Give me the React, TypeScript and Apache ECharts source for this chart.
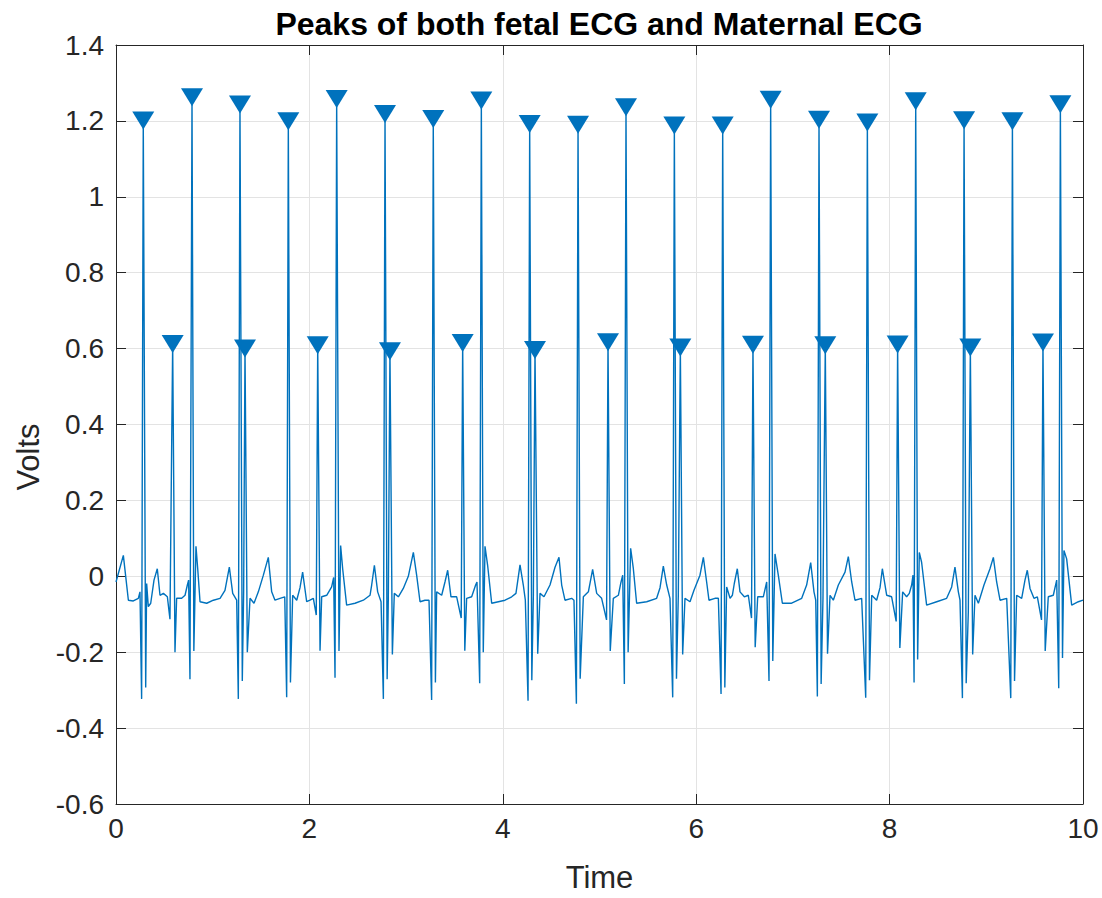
import React, { useEffect, useRef } from "react";
import * as echarts from "echarts";

// Peak markers (time in s, amplitude in V)
const maternalPeakTimes = [0.282, 0.786, 1.282, 1.782, 2.282, 2.782, 3.281, 3.778, 4.278, 4.778, 5.274, 5.774, 6.274, 6.770, 7.270, 7.770, 8.270, 8.770, 9.270, 9.766];
const maternalPeakValues = [1.201, 1.262, 1.243, 1.199, 1.258, 1.218, 1.205, 1.254, 1.192, 1.190, 1.236, 1.188, 1.188, 1.256, 1.203, 1.196, 1.252, 1.202, 1.199, 1.244];
const fetalPeakTimes = [0.586, 1.334, 2.086, 2.833, 3.585, 4.333, 5.088, 5.836, 6.587, 7.335, 8.083, 8.835, 9.586];
const fetalPeakValues = [0.612, 0.600, 0.609, 0.593, 0.615, 0.596, 0.617, 0.603, 0.610, 0.609, 0.611, 0.603, 0.616];

// Traced ECG vertices (besides the R peaks above)
const traceTimes = [
  0.000, 0.076, 0.128, 0.179, 0.231, 0.248, 0.265, 0.307, 0.317, 0.334, 0.359, 0.393, 0.427, 0.455, 0.490, 0.531, 0.558,
  0.610, 0.627, 0.679, 0.714, 0.738, 0.751, 0.765, 0.805, 0.827, 0.845, 0.869, 0.938, 1.007, 1.076, 1.127, 1.172, 1.207,
  1.248, 1.265, 1.306, 1.320, 1.358, 1.386, 1.427, 1.472, 1.524, 1.575, 1.610, 1.644, 1.696, 1.745, 1.765, 1.804, 1.827,
  1.869, 1.903, 1.930, 1.972, 2.006, 2.041, 2.071, 2.110, 2.127, 2.179, 2.230, 2.251, 2.265, 2.306, 2.323, 2.344, 2.385,
  2.472, 2.558, 2.627, 2.644, 2.672, 2.706, 2.741, 2.765, 2.804, 2.816, 2.858, 2.878, 2.920, 2.971, 3.023, 3.075, 3.109,
  3.144, 3.195, 3.237, 3.264, 3.303, 3.316, 3.368, 3.402, 3.430, 3.464, 3.523, 3.570, 3.607, 3.626, 3.678, 3.719, 3.733,
  3.761, 3.798, 3.816, 3.843, 3.885, 3.954, 4.023, 4.092, 4.136, 4.178, 4.212, 4.233, 4.261, 4.300, 4.316, 4.361, 4.385,
  4.426, 4.488, 4.540, 4.581, 4.609, 4.643, 4.712, 4.736, 4.761, 4.800, 4.833, 4.885, 4.929, 4.971, 5.022, 5.073, 5.111,
  5.143, 5.195, 5.219, 5.240, 5.257, 5.296, 5.322, 5.350, 5.384, 5.488, 5.591, 5.626, 5.660, 5.695, 5.729, 5.757, 5.796,
  5.815, 5.860, 5.884, 5.936, 5.977, 6.039, 6.074, 6.108, 6.132, 6.194, 6.229, 6.257, 6.296, 6.315, 6.350, 6.374, 6.394,
  6.425, 6.453, 6.498, 6.539, 6.572, 6.610, 6.636, 6.694, 6.729, 6.753, 6.792, 6.815, 6.849, 6.891, 6.987, 7.091, 7.142,
  7.184, 7.218, 7.236, 7.253, 7.292, 7.311, 7.358, 7.384, 7.418, 7.470, 7.539, 7.573, 7.608, 7.642, 7.711, 7.753, 7.792,
  7.815, 7.866, 7.901, 7.925, 7.970, 8.021, 8.068, 8.106, 8.135, 8.176, 8.204, 8.228, 8.242, 8.253, 8.290, 8.307, 8.331,
  8.383, 8.487, 8.590, 8.642, 8.676, 8.711, 8.728, 8.753, 8.792, 8.814, 8.859, 8.883, 8.918, 8.976, 9.038, 9.073, 9.107,
  9.142, 9.211, 9.253, 9.292, 9.314, 9.366, 9.400, 9.424, 9.452, 9.493, 9.528, 9.571, 9.609, 9.641, 9.693, 9.728, 9.749,
  9.788, 9.803, 9.831, 9.883, 9.952, 10.000,
];
const traceValues = [
  -0.015, 0.055, -0.063, -0.065, -0.058, -0.041, -0.323, -0.293, -0.019, -0.080, -0.071, -0.010, 0.020, -0.050, -0.045, -0.054, -0.113,
  -0.200, -0.058, -0.058, -0.050, -0.023, -0.010, -0.271, -0.197, 0.079, 0.020, -0.067, -0.071, -0.063, -0.058, -0.037, 0.024, -0.045,
  -0.063, -0.323, -0.276, -0.041, -0.200, -0.058, -0.071, -0.041, 0.003, 0.050, -0.041, -0.063, -0.058, -0.054, -0.319, -0.280, -0.050,
  -0.063, -0.030, 0.011, -0.067, -0.063, -0.058, -0.102, -0.196, -0.054, -0.050, -0.028, -0.003, -0.267, -0.197, 0.081, 0.020, -0.076,
  -0.071, -0.063, -0.050, -0.023, 0.029, -0.041, -0.067, -0.323, -0.271, -0.060, -0.206, -0.045, -0.054, -0.032, 0.000, 0.063, 0.003,
  -0.067, -0.063, -0.063, -0.326, -0.280, -0.041, -0.050, -0.015, 0.016, -0.054, -0.054, -0.110, -0.196, -0.058, -0.054, -0.023, -0.015,
  -0.282, -0.200, 0.079, 0.029, -0.071, -0.067, -0.063, -0.054, -0.045, 0.030, -0.023, -0.063, -0.328, -0.274, -0.050, -0.204, -0.045,
  -0.054, -0.023, 0.024, 0.050, -0.023, -0.063, -0.058, -0.063, -0.336, -0.270, -0.054, -0.041, 0.018, -0.045, -0.058, -0.115, -0.197,
  -0.058, -0.050, -0.019, 0.003, -0.284, -0.200, 0.074, 0.020, -0.071, -0.067, -0.058, -0.030, 0.027, -0.023, -0.058, -0.319, -0.270,
  -0.050, -0.206, -0.058, -0.067, -0.037, 0.003, 0.050, -0.015, -0.063, -0.058, -0.058, -0.310, -0.293, -0.028, -0.058, -0.050, -0.019,
  0.020, -0.041, -0.054, -0.050, -0.110, -0.187, -0.054, -0.054, -0.015, -0.276, -0.223, 0.059, 0.003, -0.071, -0.071, -0.058, -0.023,
  0.036, -0.041, -0.063, -0.317, -0.284, -0.058, -0.204, -0.050, -0.063, -0.023, 0.011, 0.052, -0.015, -0.063, -0.058, -0.320, -0.274,
  -0.050, -0.063, -0.030, 0.020, -0.050, -0.054, -0.119, -0.189, -0.041, -0.054, -0.045, -0.023, 0.003, -0.280, -0.219, 0.063, 0.037,
  -0.076, -0.067, -0.058, -0.028, 0.024, -0.041, -0.063, -0.321, -0.282, -0.094, -0.206, -0.050, -0.071, -0.023, 0.020, 0.050, -0.015,
  -0.063, -0.058, -0.321, -0.276, -0.050, -0.058, -0.010, 0.016, -0.032, -0.058, -0.054, -0.115, -0.197, -0.054, -0.050, -0.010, -0.295,
  -0.215, 0.068, 0.046, -0.076, -0.067, -0.063,
];

const xTickInterval = 2;
const yTickInterval = 0.2;

const TITLE = "Peaks of both fetal ECG and Maternal ECG";
const X_LABEL = "Time";
const Y_LABEL = "Volts";

const LINE_COLOR = "#0072BD";
const AXIS_COLOR = "#262626";
const FONT = "'Liberation Sans', Arial, Helvetica, sans-serif";

export default function App() {
  const ref = useRef<HTMLDivElement>(null);

  useEffect(() => {
    document.body.style.margin = "0";
    const el = ref.current;
    if (!el) return;
    const chart = echarts.init(el, null, { renderer: "svg" });

    const ecg: [number, number][] = [];
    traceTimes.forEach((t, i) => ecg.push([t, traceValues[i]]));
    maternalPeakTimes.forEach((t, i) => ecg.push([t, maternalPeakValues[i]]));
    fetalPeakTimes.forEach((t, i) => ecg.push([t, fetalPeakValues[i]]));
    ecg.sort((a, b) => a[0] - b[0]);

    const peaks: [number, number][] = [];
    maternalPeakTimes.forEach((t, i) => peaks.push([t, maternalPeakValues[i]]));
    fetalPeakTimes.forEach((t, i) => peaks.push([t, fetalPeakValues[i]]));

    const frameAxis = {
      axisLine: { show: true, onZero: false, lineStyle: { color: AXIS_COLOR, width: 1 } },
      axisTick: { show: true, inside: true, length: 10, lineStyle: { color: AXIS_COLOR } },
      axisLabel: { show: false },
      splitLine: { show: false },
    };

    chart.setOption({
      animation: false,
      backgroundColor: "#ffffff",
      textStyle: { fontFamily: FONT },
      graphic: [
        {
          type: "text",
          x: 599,
          y: 24,
          style: {
            text: TITLE,
            fontFamily: FONT,
            fontSize: 32,
            fontWeight: "bold",
            fill: "#000000",
            textAlign: "center",
            textVerticalAlign: "middle",
          },
        },
        {
          type: "text",
          x: 28,
          y: 457,
          rotation: Math.PI / 2,
          style: {
            text: Y_LABEL,
            fontFamily: FONT,
            fontSize: 31,
            fill: AXIS_COLOR,
            textAlign: "center",
            textVerticalAlign: "middle",
          },
        },
      ],
      grid: { left: 116, right: 19, top: 45, bottom: 88, containLabel: false },
      xAxis: [
        {
          type: "value",
          min: 0,
          max: 10,
          interval: xTickInterval,
          name: X_LABEL,
          nameLocation: "middle",
          nameGap: 58,
          nameTextStyle: { fontSize: 31, color: AXIS_COLOR, fontFamily: FONT },
          axisLine: { show: true, onZero: false, lineStyle: { color: AXIS_COLOR, width: 1 } },
          axisTick: { show: true, inside: true, length: 10, lineStyle: { color: AXIS_COLOR } },
          axisLabel: { fontSize: 28, color: AXIS_COLOR, margin: 10, fontFamily: FONT },
          splitLine: { show: true, lineStyle: { color: "#e3e3e3", width: 1 } },
        },
        { type: "value", position: "top", min: 0, max: 10, interval: xTickInterval, ...frameAxis },
      ],
      yAxis: [
        {
          type: "value",
          min: -0.6,
          max: 1.4,
          interval: yTickInterval,
          axisLine: { show: true, onZero: false, lineStyle: { color: AXIS_COLOR, width: 1 } },
          axisTick: { show: true, inside: true, length: 10, lineStyle: { color: AXIS_COLOR } },
          axisLabel: {
            fontSize: 28,
            color: AXIS_COLOR,
            margin: 12,
            fontFamily: FONT,
            formatter: (v: number) => String(parseFloat(v.toFixed(1))),
          },
          splitLine: { show: true, lineStyle: { color: "#e3e3e3", width: 1 } },
        },
        { type: "value", position: "right", min: -0.6, max: 1.4, interval: yTickInterval, ...frameAxis },
      ],
      series: [
        {
          type: "line",
          data: ecg,
          showSymbol: false,
          symbol: "none",
          lineStyle: { color: LINE_COLOR, width: 1.4 },
          z: 2,
        },
        {
          type: "scatter",
          data: peaks,
          symbol: "triangle",
          symbolRotate: 180,
          symbolSize: [22, 18],
          itemStyle: { color: LINE_COLOR, opacity: 1 },
          z: 3,
        },
      ],
    });

    return () => chart.dispose();
  }, []);

  return <div ref={ref} style={{ width: 1102, height: 898 }} />;
}
